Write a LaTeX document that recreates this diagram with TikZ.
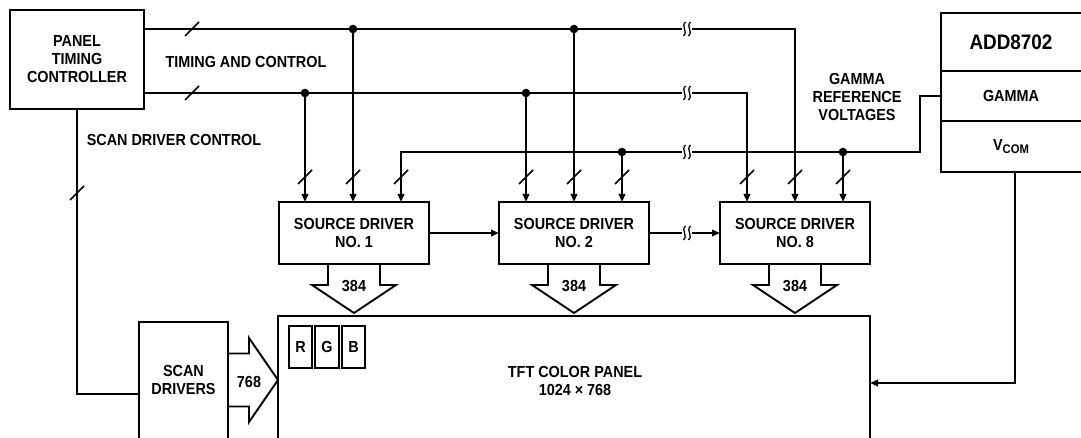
\documentclass[tikz,border=0pt]{standalone}
\usepackage{fontspec}
\setmainfont{Liberation Sans}[FakeStretch=0.9]
\usetikzlibrary{arrows.meta,calc}
\begin{document}
\begin{tikzpicture}[x=1pt,y=-1pt,
  every node/.style={font=\bfseries\fontsize{16}{18}\selectfont, align=center, inner sep=0pt, outer sep=0pt},
  ln/.style={line width=1.9pt},
  box/.style={draw, line width=1.9pt, rectangle},
  arr/.style={ln, -{Triangle[length=8pt,width=6.5pt]}},
  slash/.pic={\draw[line width=1.5pt] (-7,7) -- (7,-7);},
  brk/.pic={\fill[white] (-5,-3) rectangle (5,3);
     \draw[line width=1.3pt] (-1.5,-7) .. controls (-6.5,-2) and (1.5,2) .. (-3.5,7);
     \draw[line width=1.3pt] (3.5,-7) .. controls (-1.5,-2) and (6.5,2) .. (1.5,7);},
]
\useasboundingbox (0,0) rectangle (1081,438);

% blocks
\node[box, minimum width=134, minimum height=99] (ptc) at (77,59.5) {PANEL\\TIMING\\CONTROLLER};
\node[box, minimum width=150, minimum height=62] (sd1) at (354,233) {SOURCE DRIVER\\NO. 1};
\node[box, minimum width=150, minimum height=62] (sd2) at (574,233) {SOURCE DRIVER\\NO. 2};
\node[box, minimum width=150, minimum height=62] (sd8) at (795,233) {SOURCE DRIVER\\NO. 8};
\node[minimum width=89, minimum height=116] (scan) at (183.5,380) {SCAN\\DRIVERS};
\node[minimum width=592, minimum height=122] (tft) at (574,377) {};
\node (tftlab) at (575,381) {TFT COLOR PANEL\\1024 × 768};
\node[box, minimum width=23, minimum height=42] (r) at (300.5,347) {R};
\node[box, minimum width=24, minimum height=42] (g) at (327,347) {G};
\node[box, minimum width=23, minimum height=42] (b) at (353.5,347) {B};
\node[minimum width=140, minimum height=58, font=\bfseries\fontsize{21}{24}\selectfont] (addt) at (1011,42) {ADD8702};
\node[minimum width=140, minimum height=50] (gamma) at (1011,96) {GAMMA};
\node[minimum width=140, minimum height=51] (vcom) at (1011,146.5) {V\raisebox{-3.5pt}{\fontsize{12.5}{14}\selectfont COM}};

% outlines of open boxes
\draw[ln] (scan.south west) |- (scan.north east) -- (scan.south east);
\draw[ln] (tft.south west) |- (tft.north east) -- (tft.south east);
\draw[ln] (addt.north east) -- (addt.north west) -- (vcom.south west) -- (vcom.south east);
\draw[ln] (gamma.north west) -- (gamma.north east);
\draw[ln] (gamma.south west) -- (gamma.south east);

% labels
\node (tc) at (246,62) {TIMING AND CONTROL};
\node (sdc) at (174,140) {SCAN DRIVER CONTROL};
\node (grv) at (857,97) {GAMMA\\REFERENCE\\VOLTAGES};

% bus coordinates
\coordinate (t1) at (353,29);
\coordinate (t2) at (574,29);
\coordinate (t8) at (795,29);
\coordinate (m1) at (305,93);
\coordinate (m2) at (526,93);
\coordinate (m8) at (747,93);
\coordinate (g1) at (401,152);
\coordinate (g2) at (622,152);
\coordinate (g8) at (843,152);
\coordinate (gc) at (920,152);
\coordinate (scanin) at (139,394);
\coordinate (vin) at (870,383);

% buses
\draw[arr] (ptc.east |- t1) -- (t8) -- (t8 |- sd8.north);
\draw[arr] (ptc.east |- m1) -- (m8) -- (m8 |- sd8.north);
\draw[arr] (gamma.west) -| (gc) -- (g1) -- (g1 |- sd1.north);
\foreach \p/\s in {t1/sd1,t2/sd2,m1/sd1,m2/sd2,g2/sd2,g8/sd8}
  \draw[arr] (\p) -- (\p |- \s.north);
\foreach \p in {t1,t2,m1,m2,g2,g8}
  \fill (\p) circle (4.3);

\draw[arr] (sd1.east) -- (sd2.west);
\draw[arr] (sd2.east) -- (sd8.west);
\draw[ln] (ptc.south) |- (scanin);
\draw[arr] ([xshift=4pt]vcom.south) |- (vin);

% wide arrows 384
\foreach \s in {sd1,sd2,sd8}{
  \draw[ln] ($(\s.south)+(-26,0)$) -- ++(0,21) -- ++(-16,0) -- ($(\s.south)+(0,49)$)
     -- ($(\s.south)+(42,21)$) -- ++(-16,0) -- ++(0,-21);
  \node (lab\s) at ($(\s.south)+(0,22)$) {384};
}
% wide arrow 768
\draw[ln] ($(scan.east)+(0,-26.5)$) -- ++(21,0) -- ++(0,-15.5) -- ($(scan.east)+(50,0)$)
   -- ($(scan.east)+(21,42)$) -- ++(0,-15.5) -- ++(-21,0);
\node (lab768) at ($(scan.east)+(21,2)$) {768};

% breaks
\foreach \y in {29,93,152,233}
  \pic at (687,\y) {brk};
% bus width slashes
\foreach \x/\y in {192/29,192/93,77/193,305/177,353/177,401/177,526/177,574/177,622/177,747/177,795/177,843/177}
  \pic at (\x,\y) {slash};
\end{tikzpicture}
\end{document}
